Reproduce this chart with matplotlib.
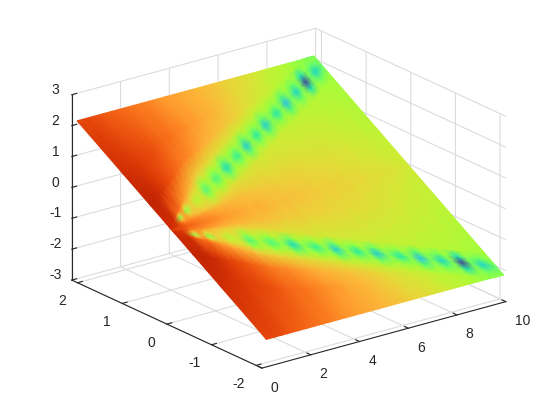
import numpy as np
import matplotlib
matplotlib.use('Agg')
import matplotlib.pyplot as plt
from mpl_toolkits.mplot3d import proj3d

plt.rcParams['font.family'] = ['Liberation Sans', 'DejaVu Sans']
plt.rcParams['axes.unicode_minus'] = False

x_ticks = [0, 2, 4, 6, 8, 10]
y_ticks = [-2, -1, 0, 1, 2]
z_ticks = [-3, -2, -1, 0, 1, 2, 3]

# columns along x, spots on the rays sit on every second column from 0.85
x_nodes = [0.2, 0.55, 0.85, 1.05, 1.25, 1.55, 1.87, 2.18, 2.49, 2.82, 3.15, 3.48, 3.8, 4.15, 4.5, 4.8,
           5.09, 5.42, 5.74, 6.03, 6.32, 6.68, 7.04, 7.33, 7.63, 7.96, 8.29, 8.59, 8.89, 9.2, 9.51, 9.92]

# colour level (percent of colormap), upper half, centre line first
row_centre = [84, 82, 79, 78, 77, 75, 74, 72, 71, 70, 69, 68, 68, 67, 66, 66, 65, 65, 64, 64, 63, 63, 62, 62, 61, 61, 60, 60, 59, 59, 58, 57]
row_q1 = [85, 83, 78, 77, 76, 74, 73, 71, 70, 69, 68, 67, 67, 66, 65, 65, 64, 64, 63, 63, 62, 62, 61, 61, 60, 60, 59, 58, 58, 57, 56, 56]
row_q2 = [86, 84, 76, 75, 74, 72, 70, 68, 67, 67, 66, 66, 65, 64, 63, 63, 62, 62, 62, 61, 61, 60, 60, 59, 59, 58, 58, 57, 56, 56, 55, 54]
row_in2 = [87, 85, 73, 72, 70, 66, 64, 62, 61, 61, 60, 60, 59, 58, 58, 58, 57, 57, 57, 56, 56, 56, 55, 55, 54, 54, 53, 53, 52, 52, 51, 50]
row_in1 = [88, 86, 62, 72, 60, 64, 58, 59, 49, 55, 49, 54, 45, 52, 48, 52, 44, 51, 47, 51, 44, 50, 47, 50, 42, 49, 44, 49, 34, 48, 44, 48]
row_ray = [88, 86, 47, 70, 47, 62, 53, 56, 41, 50, 40, 48, 31, 47, 37, 47, 28, 47, 35, 46, 28, 46, 34, 46, 26, 45, 30, 45, 6, 44, 30, 44]
row_out1 = [88, 87, 64, 73, 60, 65, 59, 59, 49, 55, 49, 53, 45, 51, 48, 51, 44, 50, 47, 50, 44, 50, 47, 49, 42, 49, 44, 48, 34, 47, 44, 47]
row_out2 = [88, 88, 78, 78, 74, 71, 68, 66, 63, 62, 61, 60, 60, 59, 58, 58, 57, 57, 56, 56, 55, 55, 54, 54, 53, 52, 52, 51, 50, 49, 48, 47]
row_f2 = [90, 90, 88, 86, 84, 82, 79, 77, 75, 74, 72, 70, 68, 67, 66, 65, 64, 63, 62, 60, 59, 58, 57, 56, 55, 54, 53, 52, 50, 49, 47, 46]
row_f5 = [88, 87, 86, 85, 84, 83, 82, 80, 78, 77, 75, 74, 72, 71, 69, 68, 67, 65, 63, 62, 60, 59, 58, 57, 55, 54, 53, 52, 50, 48, 46, 45]
row_edge = [83, 83, 82, 81, 80, 79, 78, 77, 76, 75, 74, 72, 71, 70, 69, 68, 67, 66, 65, 63, 62, 61, 59, 58, 57, 55, 54, 52, 50, 48, 46, 44]

upper = np.array([row_centre, row_q1, row_q2, row_in2, row_in1, row_ray, row_out1, row_out2, row_f2, row_f5, row_edge]) / 100
levels = np.vstack([upper[:0:-1], upper])

# mesh rows follow the two rays
x = np.array(x_nodes)
edge = 2.12
ray = 0.197 * x
w = np.minimum(0.13, 0.25 * ray)
top2 = ray + 2 * w
ys = [0 * x, 0.15 * ray, 0.35 * ray, ray - 2 * w, ray - w, ray, ray + w, top2,
      top2 + 0.2 * (edge - top2), top2 + 0.5 * (edge - top2), edge + 0 * x]
ys = np.minimum(np.array(ys), edge)
Y = np.vstack([-ys[:0:-1], ys])
X = np.tile(x, (Y.shape[0], 1))
Z = Y.copy()

fig = plt.figure(figsize=(5.58, 4.16), dpi=100)
ax = fig.add_axes([49 / 558, -22 / 416, 467 / 558, 467 / 416], projection='3d', proj_type='ortho')
ax.view_init(elev=20.8, azim=-127.5)
ax.set_box_aspect((307, 312, 198))
ax.set_xlim(0, 10)
ax.set_ylim(-2.13, 2.13)
ax.set_zlim(-3, 3)
ax.set_xticks(x_ticks)
ax.set_yticks(y_ticks)
ax.set_zticks(z_ticks)

for axis in (ax.xaxis, ax.yaxis, ax.zaxis):
    axis.set_pane_color((1, 1, 1, 0))
    axis.pane.set_edgecolor((1, 1, 1, 0))
    axis.line.set_color('#262626')
    axis.line.set_linewidth(0.8)
    axis._axinfo['grid']['color'] = '#dcdcdc'
    axis._axinfo['grid']['linewidth'] = 0.8
    axis._axinfo['tick']['inward_factor'] = 0
    axis._axinfo['tick']['outward_factor'] = 0.25
ax.tick_params(labelsize=10, colors='#262626', width=0.6)
ax.tick_params(axis='x', pad=0)
ax.tick_params(axis='y', pad=0)
ax.tick_params(axis='z', pad=-1.5)
for lab in ax.get_xticklabels():
    lab.set_ha('left')
for lab in ax.get_yticklabels():
    lab.set_ha('right')
for lab in ax.get_zticklabels():
    lab.set_va('baseline')

# gouraud shading like shading interp, drawn through the axes' own projection
px, py, _ = proj3d.proj_transform(X.ravel(), Y.ravel(), Z.ravel(), ax.get_proj())
mesh = ax.pcolormesh(np.reshape(px, X.shape), np.reshape(py, X.shape), levels,
                     shading='gouraud', cmap='turbo', vmin=0, vmax=1)
mesh.do_3d_projection = lambda: 0
ax.grid(True)

fig.savefig('out.png', dpi=100)
